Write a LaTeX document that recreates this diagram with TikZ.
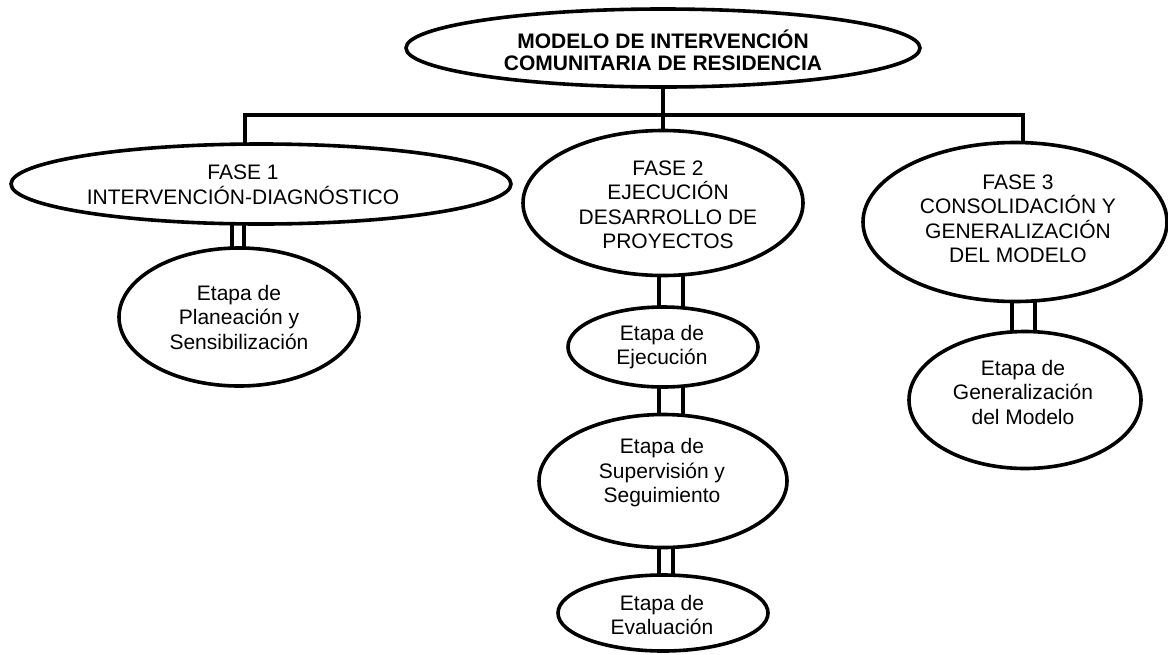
\documentclass[tikz,border=0pt]{standalone}
\usepackage{fontspec}
\setmainfont{Liberation Sans}
\usetikzlibrary{shapes.geometric,backgrounds}
\tikzset{
  oval/.style={ellipse, draw, line width=3.6pt, fill=white, inner sep=0pt},
  lbl/.style={align=center, font=\fontsize{21}{24.5}\selectfont, inner sep=0pt},
  tlbl/.style={align=center, font=\bfseries\fontsize{21}{22}\selectfont, inner sep=0pt},
  conn/.style={line width=3.4pt}
}
\begin{document}
\begin{tikzpicture}[x=1pt,y=-1pt]
\useasboundingbox (0,0) rectangle (1168,654);
% ellipses
\node[oval, minimum width=514pt, minimum height=78pt] (top) at (663,48) {};
\node[oval, minimum width=500pt, minimum height=80pt] (f1) at (261,184) {};
\node[oval, minimum width=280pt, minimum height=145pt] (f2) at (663,203) {};
\node[oval, minimum width=304pt, minimum height=159pt] (f3) at (1015,222) {};
\node[oval, minimum width=240pt, minimum height=138pt] (e1) at (239,317) {};
\node[oval, minimum width=190pt, minimum height=80pt] (e2) at (663,347) {};
\node[oval, minimum width=248pt, minimum height=133pt] (e3) at (663,481) {};
\node[oval, minimum width=210pt, minimum height=76pt] (e4) at (663,613) {};
\node[oval, minimum width=232pt, minimum height=137pt] (g) at (1025,400) {};
% labels
\node[tlbl] (t0) at (663,50) {MODELO DE INTERVENCIÓN\\COMUNITARIA DE RESIDENCIA};
\node[lbl] (t1) at (243,185) {FASE 1\\INTERVENCIÓN-DIAGNÓSTICO};
\node[lbl] (t2) at (668,205) {FASE 2\\EJECUCIÓN\\DESARROLLO DE\\PROYECTOS};
\node[lbl] (t3) at (1018,219) {FASE 3\\CONSOLIDACIÓN Y\\GENERALIZACIÓN\\DEL MODELO};
\node[lbl] (te1) at (239,317) {Etapa de\\Planeación y\\Sensibilización};
\node[lbl] (te2) at (662,347) {Etapa de\\Ejecución};
\node[lbl] (te3) at (662,473) {Etapa de\\Supervisión y\\Seguimiento};
\node[lbl] (te4) at (662,615) {Etapa de\\Evaluación};
\node[lbl] (tg) at (1023,392) {Etapa de\\Generalización\\del Modelo};
% connectors
\begin{scope}[on background layer]
\fill[white] (0,0) rectangle (1168,654);
\coordinate (hl) at (245,115);
\coordinate (hr) at (1023,115);
\draw[conn] (top.center) -- (f2.center);
\draw[conn] (hl |- f1.center) -- (hl) -- (hr) -- (hr |- f3.center);
\draw[conn] (232,0 |- f1.center) -- (232,0 |- e1.center);
\draw[conn] (244,0 |- f1.center) -- (244,0 |- e1.center);
\draw[conn] (659,0 |- f2.center) -- (659,0 |- e2.center);
\draw[conn] (683,0 |- f2.center) -- (683,0 |- e2.center);
\draw[conn] (659,0 |- e2.center) -- (659,0 |- e3.center);
\draw[conn] (683,0 |- e2.center) -- (683,0 |- e3.center);
\draw[conn] (659,0 |- e3.center) -- (659,0 |- e4.center);
\draw[conn] (673,0 |- e3.center) -- (673,0 |- e4.center);
\draw[conn] (1012,0 |- f3.center) -- (1012,0 |- g.center);
\draw[conn] (1035,0 |- f3.center) -- (1035,0 |- g.center);
\end{scope}
\end{tikzpicture}
\end{document}
